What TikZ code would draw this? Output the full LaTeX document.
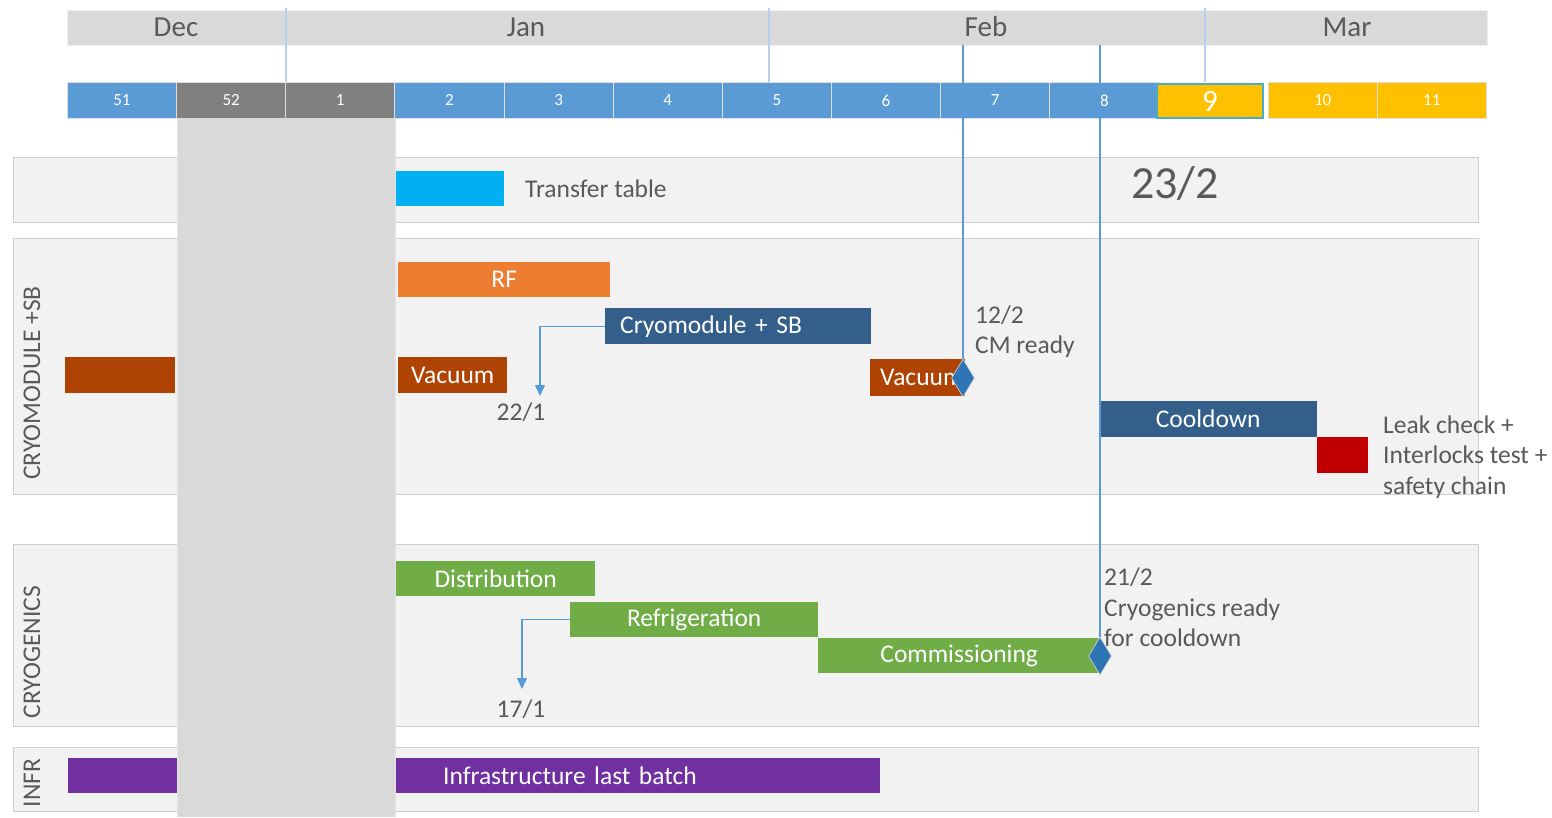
\documentclass[tikz,border=0pt]{standalone}
\usepackage{fontspec}
\setmainfont{Carlito}
\usetikzlibrary{shapes.geometric,arrows.meta}
\definecolor{monthgray}{HTML}{D9D9D9}
\definecolor{wblue}{HTML}{5B9BD5}
\definecolor{wgray}{HTML}{808080}
\definecolor{wgold}{HTML}{FFC000}
\definecolor{lanefill}{HTML}{F2F2F2}
\definecolor{laneline}{HTML}{CFCFCF}
\definecolor{txtgray}{HTML}{595959}
\definecolor{ccyan}{HTML}{00B0F0}
\definecolor{corange}{HTML}{ED7D31}
\definecolor{cnavy}{HTML}{335F8A}
\definecolor{crust}{HTML}{AE4304}
\definecolor{cred}{HTML}{C00000}
\definecolor{cgreen}{HTML}{70AD47}
\definecolor{cpurple}{HTML}{7030A0}
\definecolor{cdiam}{HTML}{2E75B6}
\definecolor{cteal}{HTML}{4BACC6}
\begin{document}
\begin{tikzpicture}[x=1pt,y=-1pt,
  weekbox/.style={draw=white!75!gray, line width=0.8pt, minimum width=109.15pt, minimum height=36pt, inner sep=0pt, anchor=north west, text=white, font=\fontsize{17}{19}\selectfont},
  monthlbl/.style={text=txtgray, font=\fontsize{29}{32}\selectfont, inner sep=0pt},
  lane/.style={draw=laneline, fill=lanefill, line width=0.8pt},
  lanelbl/.style={rotate=90, text=txtgray, font=\fontsize{25.5}{28}\selectfont, inner sep=0pt},
  bar/.style={inner sep=0pt, anchor=north west, text=white, font=\fontsize{25.5}{28}\selectfont},
  lbl/.style={text=txtgray, font=\fontsize{25.5}{30.5}\selectfont, inner sep=0pt, align=left, anchor=west},
  divider/.style={draw=wblue!45, line width=1.6pt},
  msline/.style={draw=wblue, line width=1.4pt},
  conn/.style={draw=wblue, line width=1.4pt, -{Triangle[length=11pt,width=10pt]}},
  mstone/.style={diamond, fill=cdiam, draw=white!70!gray, line width=0.6pt, minimum width=23pt, minimum height=38pt, inner sep=0pt}
]
\useasboundingbox (0,0) rectangle (1552,817);
\fill[white] (0,0) rectangle (1552,817);

% month bar
\node[fill=monthgray, draw=wblue!15, minimum width=1420pt, minimum height=35pt, inner sep=0pt, anchor=north west] (months) at (67,10) {};
\node[monthlbl] (dec) at (176,27) {Dec};
\node[monthlbl] (jan) at (526,27) {Jan};
\node[monthlbl] (feb) at (986,27) {Feb};
\node[monthlbl] (mar) at (1347,27) {Mar};

% weeks
\foreach \n/\i/\c in {51/0/wblue,52/1/wgray,1/2/wgray,2/3/wblue,3/4/wblue,4/5/wblue,5/6/wblue,6/7/wblue,7/8/wblue,8/9/wblue,10/11/wgold,11/12/wgold}{
  \node[weekbox, fill=\c] (w\n) at ({67+\i*109.15},82) {\n};
}
\node[weekbox, fill=wgold, draw=cteal, line width=2pt, minimum width=106pt, minimum height=34pt, font=\fontsize{31}{33}\selectfont] (w9) at (1156,83) {9};

% month dividers
\coordinate (d1t) at (286,8); \coordinate (d1b) at (286,82);
\coordinate (d2t) at (769,8); \coordinate (d2b) at (769,82);
\coordinate (d3t) at (1205,8); \coordinate (d3b) at (1205,82);
\draw[divider] (d1t) -- (d1b);
\draw[divider] (d2t) -- (d2b);
\draw[divider] (d3t) -- (d3b);

% lanes
\draw[lane] (13,157) rectangle (1478,222);
\draw[lane] (13,238) rectangle (1478,494);
\draw[lane] (13,544) rectangle (1478,726);
\draw[lane] (13,747) rectangle (1478,811);
\node[lanelbl] (lcm) at (32,383) {CRYOMODULE +SB};
\node[lanelbl] (lcr) at (32,652) {CRYOGENICS};
\node[lanelbl] (lin) at (32,783) {INFR};

% bars
\node[bar, fill=ccyan, minimum width=109pt, minimum height=35pt] (tt) at (395,171) {};
\node[lbl] (ttl) at (525,189) {Transfer table};
\node[text=txtgray, font=\fontsize{46}{50}\selectfont, inner sep=0pt] (date) at (1175,184) {23/2};

\node[bar, fill=corange, minimum width=212pt, minimum height=35pt] (rf) at (398,262) {RF};
\node[bar, fill=cnavy, minimum width=266pt, minimum height=36pt, text width=236pt, align=left, inner xsep=15pt] (cm) at (605,308) {Cryomodule + SB};
\node[bar, fill=crust, minimum width=110pt, minimum height=36pt] (vac0) at (65,357) {};
\node[bar, fill=crust, minimum width=109pt, minimum height=36pt] (vac1) at (398,357) {Vacuum};
\node[bar, fill=crust, minimum width=95pt, minimum height=37pt, text width=95pt, align=left, inner xsep=0pt] (vac2) at (870,359) {\hspace*{10pt}\mbox{Vacuum}};
\node[bar, fill=cnavy, minimum width=218pt, minimum height=36pt] (cool) at (1099,401) {Cooldown};
\node[bar, fill=cred, minimum width=51pt, minimum height=36pt] (leak) at (1317,437) {};
\node[lbl] (leakl) at (1383,457) {Leak check +\\Interlocks test +\\safety chain};

\node[bar, fill=cgreen, minimum width=199pt, minimum height=35pt] (dist) at (396,561) {Distribution};
\node[bar, fill=cgreen, minimum width=248pt, minimum height=35pt] (refr) at (570,602) {Refrigeration};
\node[bar, fill=cgreen, minimum width=282pt, minimum height=35pt] (comm) at (818,638) {Commissioning};
\node[bar, fill=cpurple, minimum width=812pt, minimum height=35pt, text width=812pt, align=left, inner xsep=0pt] (infr) at (68,758) {\hspace*{375pt}Infrastructure last batch};

% holiday column
\fill[monthgray] (177,118) rectangle (395,817);
\draw[white!80!gray, line width=0.6pt] (177,118) -- (177,817) (395,118) -- (395,817);

% connectors
\coordinate (a22) at (540,396);
\draw[conn] (cm.west) -| (a22);
\node[text=txtgray, font=\fontsize{25.5}{28}\selectfont, inner sep=0pt] (l22) at (521,412) {22/1};
\coordinate (a17) at (522,689);
\draw[conn] (refr.west) -| (a17);
\node[text=txtgray, font=\fontsize{25.5}{28}\selectfont, inner sep=0pt] (l17) at (521,709) {17/1};

% milestones
\node[mstone] (m1) at (963,378) {};
\node[mstone] (m2) at (1100,656) {};
\coordinate (m1t) at (963,45);
\coordinate (m2t) at (1100,45);
\draw[msline] (m1t) -- (m1.north);
\draw[msline] (m2t) -- (m2.north);
\node[lbl] (m1l) at (975,331.5) {12/2\\CM ready};
\node[lbl] (m2l) at (1104,607.5) {21/2\\Cryogenics ready\\for cooldown};
\end{tikzpicture}
\end{document}
